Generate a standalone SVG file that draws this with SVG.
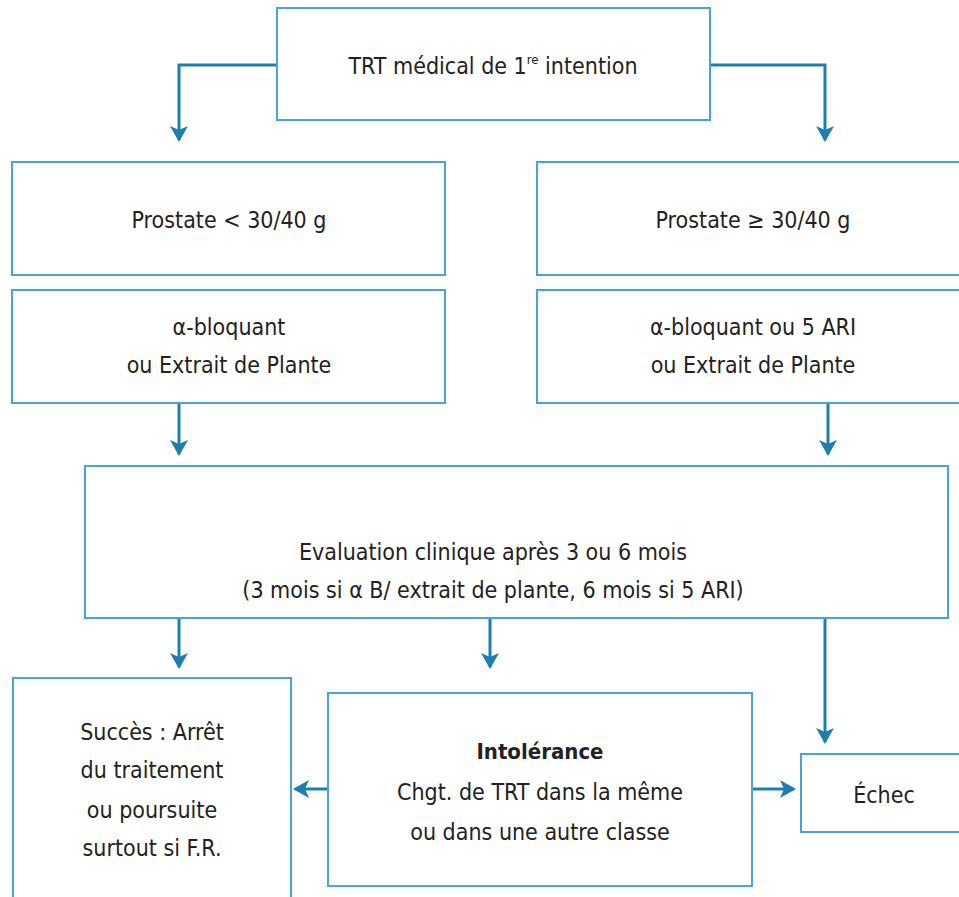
<svg xmlns="http://www.w3.org/2000/svg" width="959" height="897" viewBox="0 0 959 897">
<style>
.box{fill:#fff;stroke:#4aa3d3;stroke-width:2}
.t{font-family:"DejaVu Sans Condensed","DejaVu Sans",sans-serif;font-stretch:condensed;font-size:23px;fill:#222;text-anchor:middle}
.b{font-weight:bold;font-size:22px}
.c{fill:none;stroke:#1c7fae;stroke-width:3}
</style>
<defs>
<marker id="ah" viewBox="0 0 16 18" refX="14" refY="9" markerWidth="16" markerHeight="18" markerUnits="userSpaceOnUse" orient="auto">
<path d="M0,0 L16,9 L0,18 L4,9 Z" fill="#1c7fae"/>
</marker>
</defs>
<rect width="959" height="897" fill="#fff"/>
<g id="connectors">
<path class="c" d="M277,65 H179 V140" marker-end="url(#ah)"/>
<path class="c" d="M710,65 H825 V140" marker-end="url(#ah)"/>
<path class="c" d="M179,403 V454" marker-end="url(#ah)"/>
<path class="c" d="M828,403 V454" marker-end="url(#ah)"/>
<path class="c" d="M179,618 V667" marker-end="url(#ah)"/>
<path class="c" d="M490,618 V667" marker-end="url(#ah)"/>
<path class="c" d="M825,618 V742" marker-end="url(#ah)"/>
<path class="c" d="M328,789 H295" marker-end="url(#ah)"/>
<path class="c" d="M752,789 H794" marker-end="url(#ah)"/>
</g>
<g id="n-top">
<rect class="box" x="277" y="8" width="433" height="112"/>
<text class="t" x="493" y="74">TRT médical de 1<tspan font-size="13" dy="-10">re</tspan><tspan dy="10"> intention</tspan></text>
</g>
<g id="n-small">
<rect class="box" x="12" y="162" width="433" height="113"/>
<text class="t" x="229" y="228">Prostate &lt; 30/40 g</text>
</g>
<g id="n-large">
<rect class="box" x="537" y="162" width="440" height="113"/>
<text class="t" x="753" y="228">Prostate ≥ 30/40 g</text>
</g>
<g id="n-alpha-left">
<rect class="box" x="12" y="290" width="433" height="113"/>
<text class="t" x="229" y="335">α-bloquant</text>
<text class="t" x="229" y="373">ou Extrait de Plante</text>
</g>
<g id="n-alpha-right">
<rect class="box" x="537" y="290" width="440" height="113"/>
<text class="t" x="753" y="335">α-bloquant ou 5 ARI</text>
<text class="t" x="753" y="373">ou Extrait de Plante</text>
</g>
<g id="n-eval">
<rect class="box" x="85" y="466" width="863" height="152"/>
<text class="t" x="493" y="560">Evaluation clinique après 3 ou 6 mois</text>
<text class="t" x="493" y="598">(3 mois si α B/ extrait de plante, 6 mois si 5 ARI)</text>
</g>
<g id="n-succes">
<rect class="box" x="13" y="678" width="278" height="230"/>
<text class="t" x="152" y="740">Succès : Arrêt</text>
<text class="t" x="152" y="778">du traitement</text>
<text class="t" x="152" y="818">ou poursuite</text>
<text class="t" x="152" y="856">surtout si F.R.</text>
</g>
<g id="n-intol">
<rect class="box" x="328" y="693" width="424" height="193"/>
<text class="t b" x="540" y="759">Intolérance</text>
<text class="t" x="540" y="800">Chgt. de TRT dans la même</text>
<text class="t" x="540" y="840">ou dans une autre classe</text>
</g>
<g id="n-echec">
<rect class="box" x="801" y="754" width="170" height="78"/>
<text class="t" x="884" y="803">Échec</text>
</g>
</svg>
